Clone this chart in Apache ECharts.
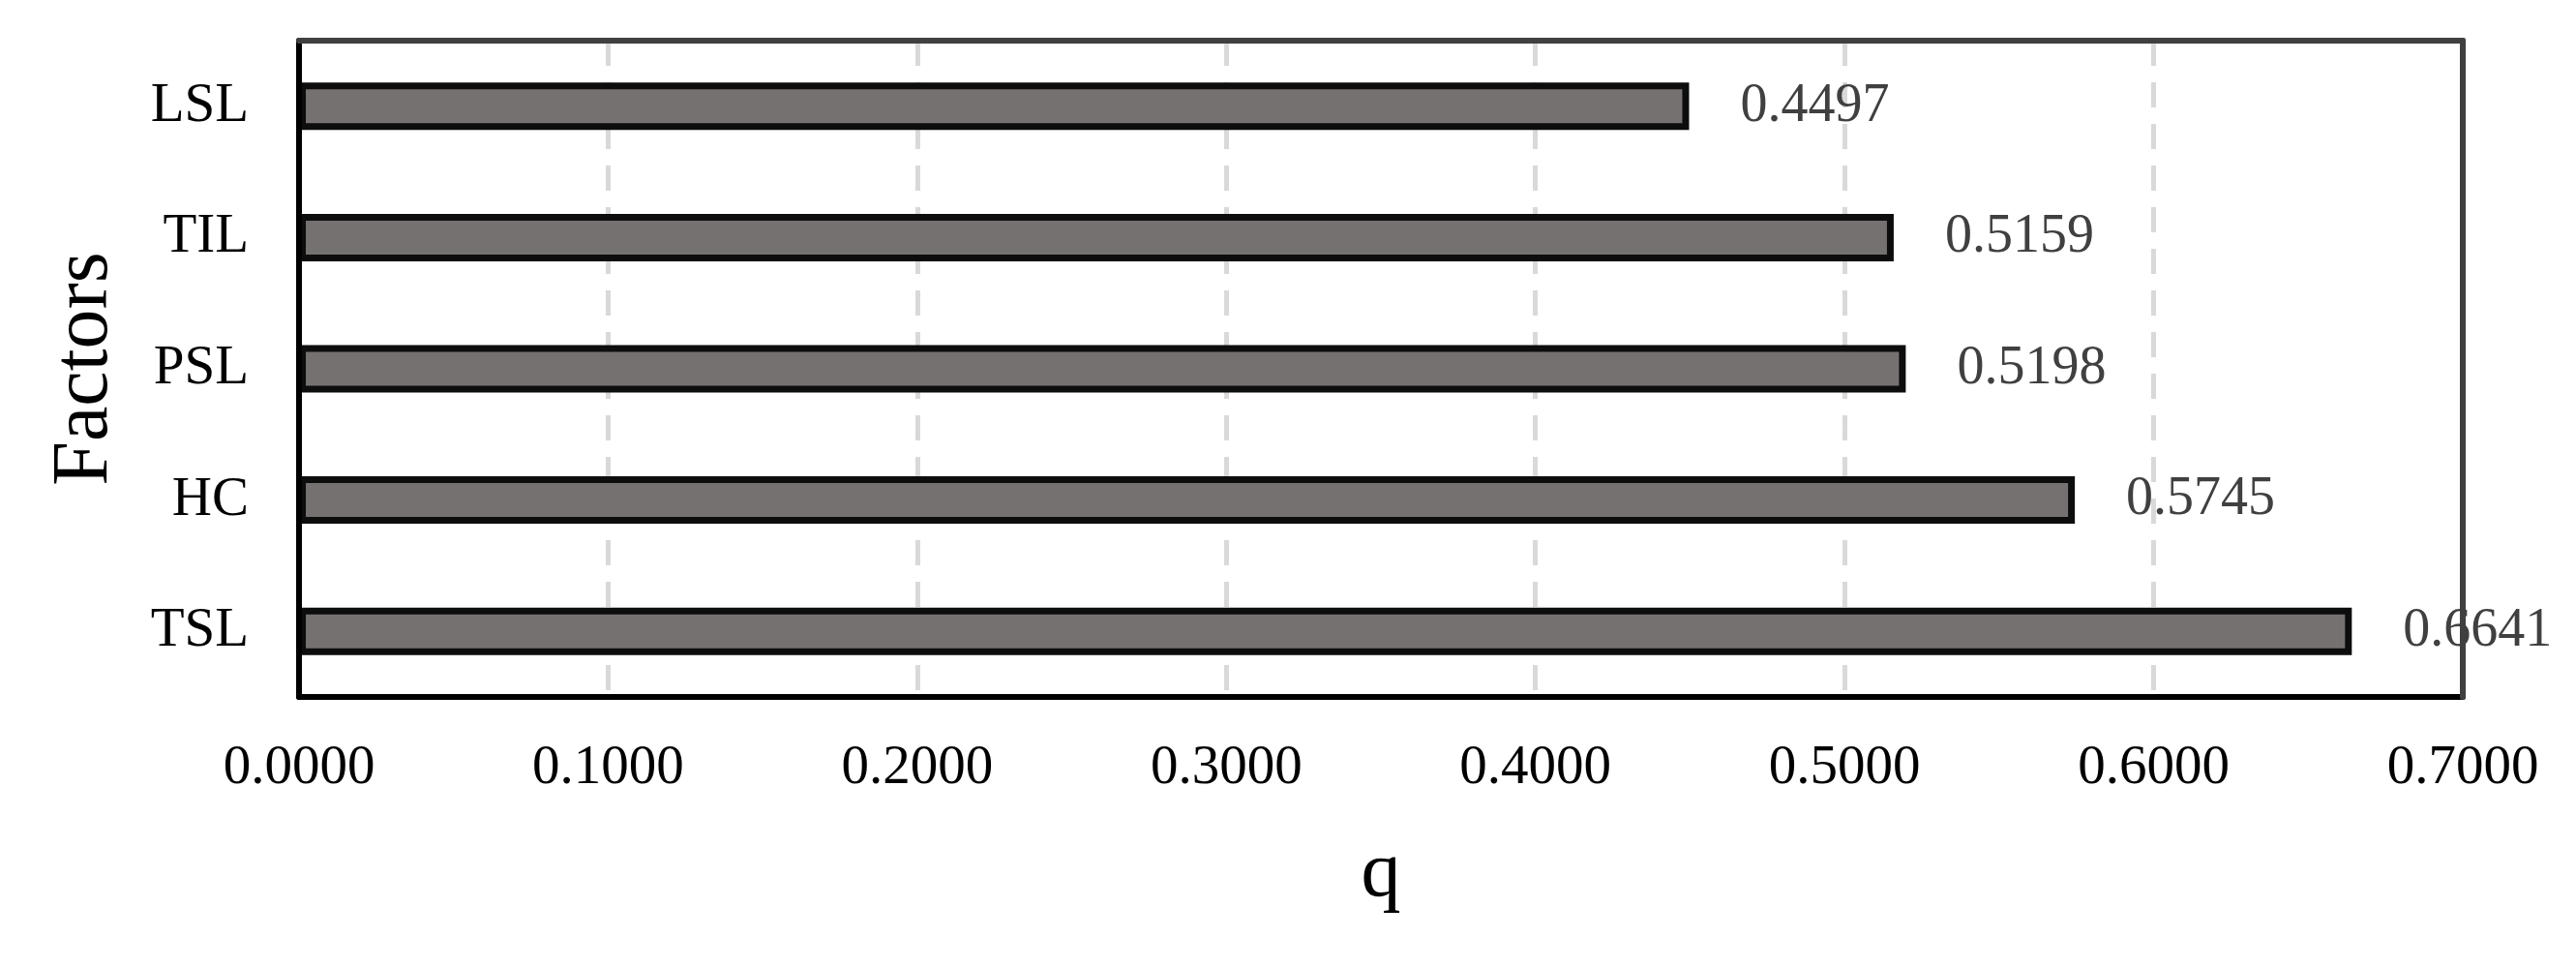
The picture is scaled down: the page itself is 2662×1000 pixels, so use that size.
<!DOCTYPE html>
<html>
<head>
<meta charset="utf-8">
<script src="https://cdn.jsdelivr.net/npm/echarts@6/dist/echarts.min.js"></script>
<style>
html,body{margin:0;padding:0;background:#fff;}
#chart{width:2662px;height:1000px;}
</style>
</head>
<body>
<div id="chart"></div>
<script>
// Data (bottom-to-top order for the category axis)
var categories = ['TSL', 'HC', 'PSL', 'TIL', 'LSL'];
var qValues = [0.6641, 0.5745, 0.5198, 0.5159, 0.4497];
var xMin = 0, xMax = 0.7, xStep = 0.1;
var xAxisName = 'q';
var yAxisName = 'Factors';

var FONT = '"Liberation Serif", "Times New Roman", serif';
var chart = echarts.init(document.getElementById('chart'));
chart.setOption({
  backgroundColor: '#ffffff',
  animation: false,
  grid: { left: 309, right: 117, top: 42, bottom: 280, containLabel: false },
  xAxis: [{
    type: 'value', position: 'bottom', min: xMin, max: xMax, interval: xStep, z: 1,
    name: xAxisName, nameLocation: 'middle', nameGap: 142,
    nameTextStyle: { fontFamily: FONT, fontSize: 82, color: '#000' },
    axisLine: { show: true, lineStyle: { color: '#000', width: 6 } },
    axisTick: { show: false },
    axisLabel: { fontFamily: FONT, fontSize: 57, color: '#000', margin: 46,
      formatter: function (v) { return v.toFixed(4); } },
    splitLine: { show: true, lineStyle: { color: '#d9d9d9', width: 5, type: [26, 17] } }
  }, {
    type: 'value', position: 'top', min: xMin, max: xMax, interval: xStep, z: 3,
    axisLine: { show: true, onZero: false, lineStyle: { color: '#404040', width: 6 } },
    axisTick: { show: false }, axisLabel: { show: false }, splitLine: { show: false }
  }],
  yAxis: [{
    type: 'category', position: 'left', data: categories, z: 3,
    name: yAxisName, nameLocation: 'middle', nameGap: 180, nameRotate: 90,
    nameTextStyle: { fontFamily: FONT, fontSize: 82, color: '#000' },
    axisLine: { show: true, lineStyle: { color: '#000', width: 6 } },
    axisTick: { show: false },
    axisLabel: { fontFamily: FONT, fontSize: 57, color: '#000', margin: 52 },
    splitLine: { show: false }
  }, {
    type: 'value', position: 'right', min: 0, max: 1, z: 3,
    axisLine: { show: true, onZero: false, lineStyle: { color: '#404040', width: 6 } },
    axisTick: { show: false }, axisLabel: { show: false }, splitLine: { show: false }
  }],
  series: [{
    type: 'bar', xAxisIndex: 0, yAxisIndex: 0,
    data: qValues, barWidth: 49,
    itemStyle: { color: '#767171', borderColor: '#0d0d0d', borderWidth: 7 },
    label: { show: true, position: 'right', distance: 53,
      fontFamily: FONT, fontSize: 56, color: '#404040',
      formatter: function (p) { return p.value.toFixed(4); } }
  }]
});
</script>
</body>
</html>
